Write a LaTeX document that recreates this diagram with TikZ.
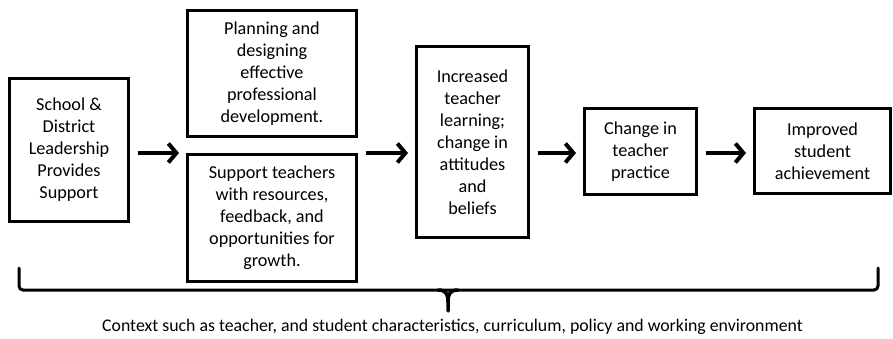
\documentclass[tikz,border=0pt]{standalone}
\usepackage{fontspec}
\setmainfont{Carlito}
\usetikzlibrary{arrows.meta}

\begin{document}
\begin{tikzpicture}[x=1pt,y=-1pt,
    every node/.style={rectangle,draw,line width=3pt,align=center,inner sep=2pt,
        font=\fontsize{18.2}{22}\selectfont},
    arr/.style={line width=4pt,-{Straight Barb[length=8pt,width=19pt]},
        shorten <=8pt,shorten >=7pt}]
    \useasboundingbox (0,0) rectangle (893,339);

    \node[minimum width=119pt,minimum height=143pt] (lead) at (69,150)
        {School \&\\District\\Leadership\\Provides\\Support};
    \node[minimum width=169pt,minimum height=126pt] (plan) at (272,73.5)
        {Planning and\\designing\\effective\\professional\\development.};
    \node[minimum width=169pt,minimum height=126pt] (supp) at (272,218)
        {Support teachers\\with resources,\\feedback, and\\opportunities for\\growth.};
    \node[draw=none,minimum width=172pt,inner sep=0pt,outer sep=0pt] (mid) at (272,153) {};
    \node[minimum width=112pt,minimum height=191pt] (learn) at (472.5,142)
        {Increased\\teacher\\learning;\\change in\\attitudes\\and\\beliefs};
    \node[minimum width=112pt,minimum height=85pt] (prac) at (640.5,151.5)
        {Change in\\teacher\\practice};
    \node[minimum width=136pt,minimum height=85pt] (ach) at (822.5,151)
        {Improved\\student\\achievement};

    \foreach \u / \v in {lead/mid,mid/learn,learn/prac,prac/ach}
        \draw[arr] (\u.east |- mid) -- (\v.west |- mid);

    % brace under the boxes
    \coordinate (bl) at (19,268);
    \coordinate (br) at (878,268);
    \coordinate (tip) at (448,311);
    \draw[line width=3pt,rounded corners=4pt,line cap=round]
        (bl) |- (440,290) -- (tip |- 0,290) -- (br |- 0,290) -- (br);
    \draw[line width=3.5pt,line cap=round]
        (438,290) .. controls (446,290) and (448,294) .. (448,302) -- (tip)
        (458,290) .. controls (450,290) and (448,294) .. (448,302);

    \node[draw=none,font=\fontsize{17.8}{20}\selectfont] (ctx) at (452.5,327)
        {Context such as teacher, and student characteristics, curriculum, policy and working environment};
\end{tikzpicture}
\end{document}
